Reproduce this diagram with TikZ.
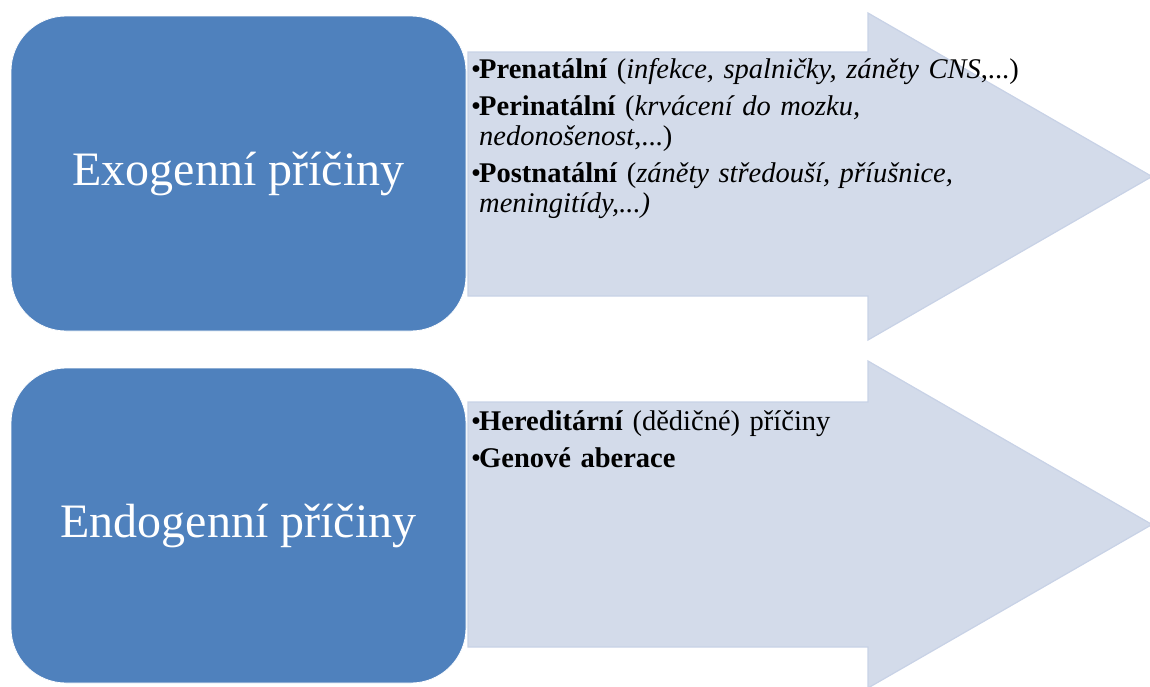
\documentclass[tikz,border=0pt]{standalone}
\usepackage{fontspec}
\setmainfont{Liberation Serif}
\usepackage{tikz}
\usetikzlibrary{positioning}
\definecolor{causeblue}{RGB}{79,129,189}
\definecolor{arrowgrey}{RGB}{211,219,234}
\definecolor{arrowedge}{RGB}{200,210,230}
\newcommand{\bitem}{\llap{\makebox[8pt][l]{•}}}
\begin{document}
\begin{tikzpicture}[x=1pt,y=-1pt]
						\tikzstyle{cause}=[rectangle,rounded corners=55pt,fill=causeblue,draw=white,line width=0.8pt,minimum width=455pt,minimum height=315pt,inner sep=0pt,text=white,font=\fontsize{48}{56}\selectfont]
						\tikzstyle{band}=[fill=arrowgrey,draw=arrowedge,line width=1.2pt]
						\tikzstyle{items}=[anchor=base west,inner sep=0pt,text width=640pt,align=left,font=\fontsize{28.5}{30}\selectfont]
						\useasboundingbox (0,0) rectangle (1150,686);
						% arrows
						\draw[band] (468,52) -- (868,52) -- (868,13) -- (1152,176.5) -- (868,340) -- (868,296) -- (468,296) -- cycle;
						\draw[band] (468,402) -- (868,402) -- (868,361) -- (1152,524.5) -- (868,688) -- (868,647) -- (468,647) -- cycle;
						% boxes
						\node[cause] (exo) at (238.5,173.5) {Exogenní příčiny};
						\node[cause] (endo) at (238.5,525.5) {Endogenní příčiny};
						% lists
						\node[items] (pre) at (479,78) {\bitem\textbf{Prenatální} (\textit{infekce, spalničky, záněty CNS},...)};
						\node[items] (peri) at (479,115) {\bitem\textbf{Perinatální} (\textit{krvácení do mozku,}\\ \textit{nedonošenost},...)};
						\node[items] (post) at (479,182) {\bitem\textbf{Postnatální} (\textit{záněty středouší, příušnice,}\\ \textit{meningitídy,...)}};
						\node[items] (here) at (479,430) {\bitem\textbf{Hereditární} (dědičné) příčiny};
						\node[items] (gen) at (479,467) {\bitem\textbf{Genové aberace}};
						\end{tikzpicture}
\end{document}
